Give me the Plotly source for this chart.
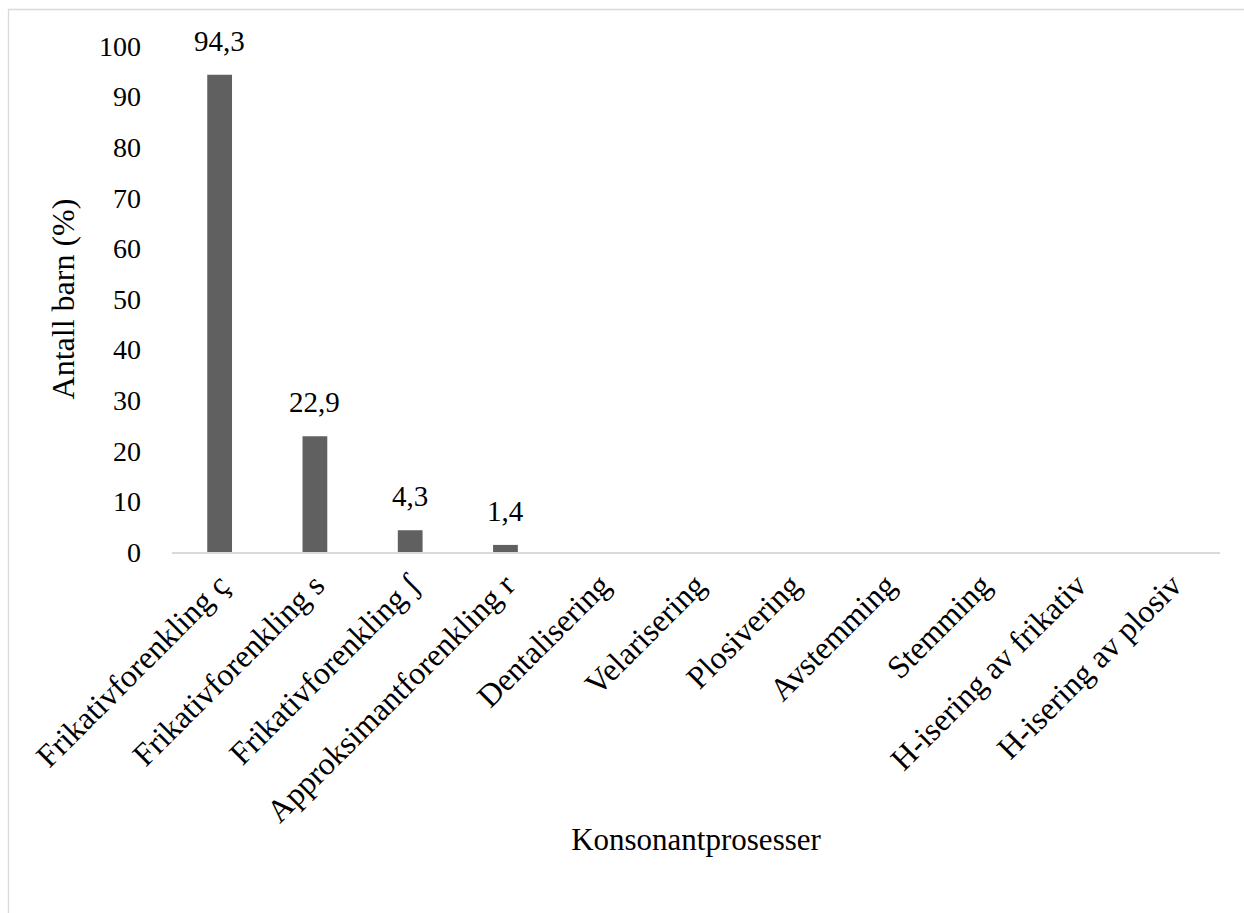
import plotly.graph_objects as go

categories = [
    "Frikativforenkling ç", "Frikativforenkling s", "Frikativforenkling ʃ",
    "Approksimantforenkling r", "Dentalisering", "Velarisering", "Plosivering",
    "Avstemming", "Stemming", "H-isering av frikativ", "H-isering av plosiv",
]
values = [94.3, 22.9, 4.3, 1.4, 0, 0, 0, 0, 0, 0, 0]
y_ticks = list(range(0, 101, 10))

labels = [f"{v:.1f}".replace(".", ",") if v > 0 else "" for v in values]

W, H = 1244, 913
L, R, T, B = 172, 24, 46, 361
pw, ph = W - L - R, H - T - B

FONT = "Liberation Serif, Times New Roman, serif"

fig = go.Figure(go.Bar(
    x=categories, y=values,
    marker=dict(color="#606060", line=dict(width=0)),
    cliponaxis=False,
))

annotations = [
    dict(x=c, y=v, text=t, showarrow=False, xref="x", yref="y",
         yanchor="bottom", yshift=16, font=dict(size=29, color="#000000", family=FONT))
    for c, v, t in zip(categories, values, labels) if t
]

fig.update_layout(
    width=W, height=H,
    margin=dict(l=L, r=R, t=T, b=B),
    paper_bgcolor="white", plot_bgcolor="white",
    font=dict(family=FONT, size=28, color="#000000"),
    bargap=0.74,
    showlegend=False,
    annotations=annotations,
    shapes=[dict(
        type="rect", xref="paper", yref="paper",
        x0=(8.5 - L) / pw, x1=(W + 5 - L) / pw,
        y0=-(H + 5 - (T + ph)) / ph, y1=1 + (T - 9.5) / ph,
        line=dict(color="#d9d9d9", width=1.3), fillcolor="rgba(0,0,0,0)",
        layer="below",
    )],
)
fig.update_xaxes(
    tickangle=-45, showline=True, linecolor="#d9d9d9", linewidth=1.5,
    ticks="", showgrid=False,
    title=dict(text="Konsonantprosesser", standoff=0, font=dict(size=31)),
    tickfont=dict(size=32),
)
fig.update_yaxes(
    range=[0, 100], tickvals=y_ticks, showgrid=False, zeroline=False,
    showline=False, ticks="", ticklabelstandoff=30,
    title=dict(text="Antall barn (%)", standoff=14, font=dict(size=32)),
    tickfont=dict(size=28),
)

fig.write_html("out.html")
